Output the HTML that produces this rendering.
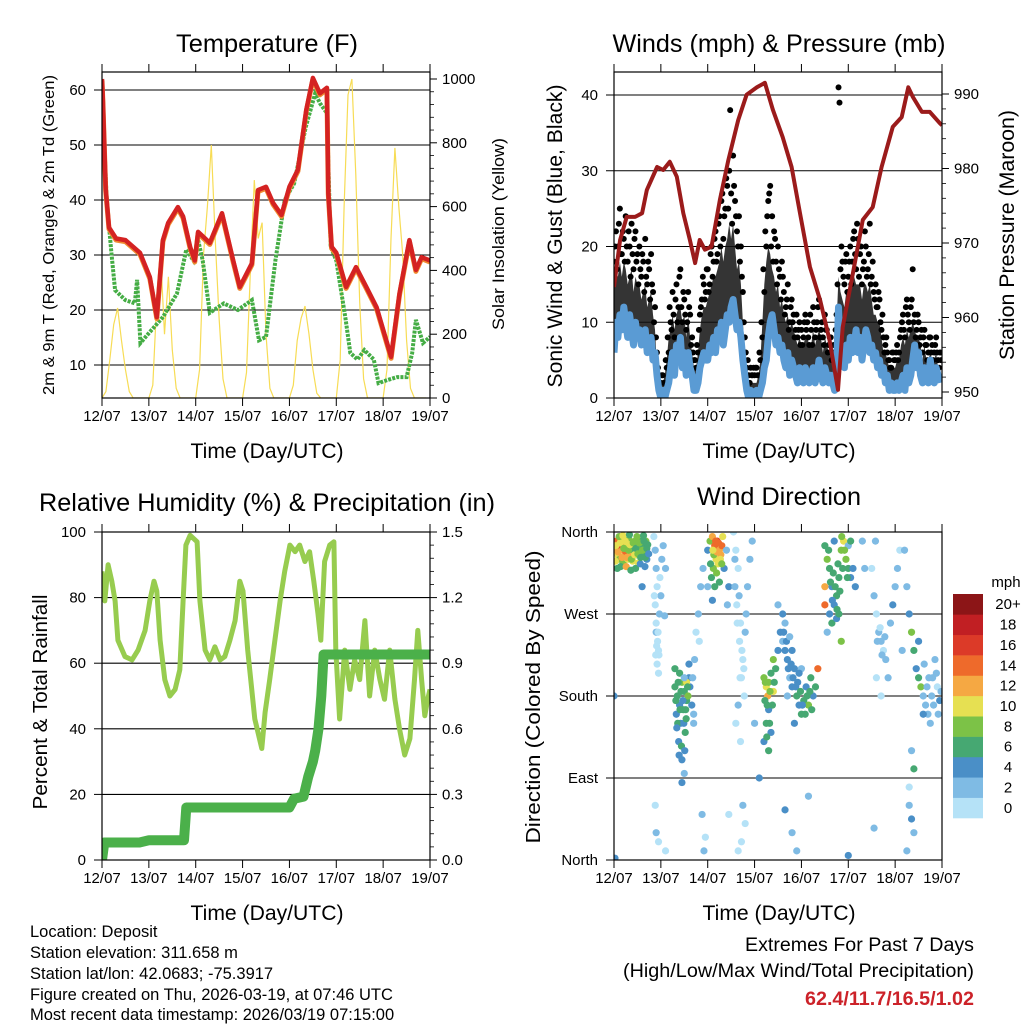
<!DOCTYPE html>
<html><head><meta charset="utf-8"><style>
html,body{margin:0;padding:0;background:#fff}
svg{display:block;font-family:"Liberation Sans",sans-serif}
</style></head><body>
<svg id="root" width="1024" height="1024" viewBox="0 0 1024 1024">
<defs>
<clipPath id="c1"><rect x="102" y="72" width="328" height="326"/></clipPath>
<clipPath id="c2"><rect x="614" y="72" width="328" height="326"/></clipPath>
<clipPath id="c3"><rect x="102" y="532" width="328" height="328"/></clipPath>
<clipPath id="c4"><rect x="614" y="532" width="328" height="328"/></clipPath>
</defs>
<g id="g1"></g>
<g id="g2"></g>
<g id="g3"></g>
<g id="g4"></g>
<g font-size="16.5" fill="#000">
<text x="30" y="937">Location: Deposit</text>
<text x="30" y="958">Station elevation: 311.658 m</text>
<text x="30" y="979">Station lat/lon: 42.0683; -75.3917</text>
<text x="30" y="1000">Figure created on Thu, 2026-03-19, at 07:46 UTC</text>
<text x="30" y="1020">Most recent data timestamp: 2026/03/19 07:15:00</text>
</g>
<g text-anchor="end">
<text x="974" y="951" font-size="19" textLength="229" lengthAdjust="spacingAndGlyphs">Extremes For Past 7 Days</text>
<text x="974" y="977" font-size="19" textLength="351" lengthAdjust="spacingAndGlyphs">(High/Low/Max Wind/Total Precipitation)</text>
<text x="974" y="1005" font-size="19" font-weight="bold" fill="#cc2229" textLength="169" lengthAdjust="spacingAndGlyphs">62.4/11.7/16.5/1.02</text>
</g>
</svg>
<script>
// ---------- DATA ----------
const dayLabels = ["12/07","13/07","14/07","15/07","16/07","17/07","18/07","19/07"];
const tempTicks = [10,20,30,40,50,60];
const solarTicks = [0,200,400,600,800,1000];
const windTicks = [0,10,20,30,40];
const presTicks = [950,960,970,980,990];
const rhTicks = [0,20,40,60,80,100];
const precipTicks = ["0.0","0.3","0.6","0.9","1.2","1.5"];
const dirLabels = ["North","East","South","West","North"];
const dirTicks = [0,90,180,270,360];
const speedBins = ["0","2","4","6","8","10","12","14","16","18","20+"];
const speedColors = ["#b5e2f7","#7fbbe4","#4a8fc7","#46a872","#7cc247","#e6e052","#f5a843","#ee6a2b","#dc3a28","#c11f23","#8c1517"];

const tempDays = [0,0.02,0.08,0.15,0.3,0.5,0.81,1.02,1.17,1.3,1.41,1.62,1.73,1.88,1.98,2.05,2.3,2.56,2.8,2.94,3.2,3.33,3.5,3.65,3.83,4.0,4.18,4.36,4.5,4.65,4.8,4.83,4.9,5.0,5.21,5.42,5.64,5.86,6.17,6.35,6.56,6.7,6.82,7];
const tempT = [62,58,42,35,33,32.7,30.4,26,18.7,32.7,35.8,38.7,37,31.5,29,34.2,32.2,37.6,29,24.2,28.5,41.8,42.4,39.5,37.3,42.4,45.5,56.4,62.2,59.4,60.4,41.3,31.5,30.4,24.2,27.8,24.2,20.5,11.5,23,32.7,27.3,29.6,29];
const dewDays = [0,0.02,0.1,0.2,0.28,0.5,0.7,0.75,0.82,1.0,1.3,1.6,1.8,1.95,2.05,2.15,2.3,2.6,2.9,3.2,3.35,3.5,3.7,3.9,4.1,4.35,4.55,4.65,4.8,4.88,5.0,5.2,5.3,5.45,5.6,5.8,5.9,6.1,6.3,6.5,6.62,6.7,6.85,7];
const dewT = [48,56,40,30.4,23.6,21.8,21.2,25.5,14,15.8,18.7,23,31,29,32.7,29,19.5,21.2,20,21.8,14.5,15.1,29,40,43,53.3,59.4,57.6,55.8,31.5,29,18.2,12.2,11,12.7,11,6.7,7.3,7.8,7.8,12.2,18.2,14,15.1];
const solar = [
0,20,120,230,282,180,90,20,0,0,0,0,
0,40,300,448,200,380,150,30,0,0,0,0,
0,90,450,600,793,500,250,60,0,0,0,0,
0,80,400,683,500,550,200,30,0,0,0,0,
0,40,180,250,288,200,90,15,0,0,0,0,
0,120,600,950,1000,700,300,60,0,0,0,0,
0,90,500,784,600,450,180,30,0,0,0,0];

const windMean = [
6,10,8,11,9,12,10,8,11,9,7,10,8,9,7,8,9,6,7,8,5,6,3,1,
0,1,0,1,2,4,6,3,7,5,8,4,6,3,6,4,3,1,1,2,4,5,6,5,
5,7,6,8,6,9,8,10,7,9,11,10,12,13,11,9,10,8,5,3,1,0,1,0,
0,1,0,1,2,4,5,8,10,11,9,7,8,6,7,5,4,6,3,5,4,3,2,4,
3,2,4,3,2,3,4,2,3,5,3,2,4,3,2,3,2,1,4,12,5,6,4,7,
5,8,6,7,9,6,8,5,7,9,8,6,7,5,6,4,5,3,4,2,3,1,2,1,
1,2,1,2,3,1,4,2,3,5,7,4,6,3,2,4,3,2,5,3,2,4,3,2];
const gustA = [
18,22,20,25,19,21,24,18,20,23,17,22,19,20,16,18,21,15,17,19,14,12,6,3,
2,3,2,4,6,10,14,8,15,12,17,10,13,9,14,11,8,5,4,6,11,13,15,14,
17,15,20,18,22,19,24,26,21,25,28,30,27,32,26,22,24,20,14,8,4,3,4,3,
3,4,3,5,8,14,20,26,28,24,22,18,20,16,18,14,12,15,10,13,11,9,8,10,
9,8,11,10,7,9,12,8,10,13,9,8,11,9,7,8,6,5,11,41,17,18,15,19,
16,20,18,22,17,21,19,15,18,20,17,23,16,14,15,12,13,9,8,7,6,5,4,6,
5,7,6,9,11,8,13,10,12,17,11,9,10,8,6,9,7,6,8,7,6,8,5,6];
const gustB = [
20,17,23,19,22,18,20,22,16,19,21,18,15,17,19,14,16,18,13,15,10,8,4,2,
3,2,5,8,12,9,11,13,10,16,12,14,11,10,12,7,6,5,7,9,12,16,13,17,
14,19,16,21,18,23,20,27,24,29,25,38,23,28,24,20,18,16,10,6,5,2,3,4,
4,3,6,10,17,22,24,27,20,18,21,15,17,13,16,11,13,9,12,10,8,11,9,7,
7,10,9,8,11,7,10,9,12,8,10,7,9,6,8,5,7,9,15,39,20,16,18,14,
18,15,21,19,23,16,20,17,22,16,19,15,18,13,12,14,10,11,6,8,5,4,6,5,
6,5,8,10,9,12,11,9,13,10,8,11,7,9,8,7,5,8,6,5,7,6,4,5];
const gustTypical = [
15,17,16,18,16,18,17,15,16,17,14,16,15,15,13,14,15,12,13,14,11,9,4,2,
2,2,3,5,8,9,11,9,11,12,12,10,11,8,11,8,6,4,4,6,9,11,12,12,
13,14,15,16,16,17,18,20,18,20,21,23,21,23,20,17,18,15,10,6,3,2,2,2,
2,2,3,5,10,15,18,20,19,17,16,14,15,12,13,11,10,11,9,10,9,8,7,8,
7,7,8,8,7,7,9,7,8,9,8,6,8,7,6,6,5,5,10,16,14,13,12,14,
14,15,15,16,15,15,15,13,15,15,14,15,13,11,11,10,10,8,6,6,5,4,4,4,
4,5,5,7,8,7,9,8,9,10,9,8,8,7,5,7,5,5,6,5,5,6,4,4];
const presDays = [0,0.13,0.27,0.45,0.6,0.7,0.92,1.05,1.19,1.34,1.48,1.62,1.73,1.83,1.94,2.08,2.26,2.44,2.65,2.83,3.05,3.22,3.39,3.6,3.79,3.97,4.18,4.4,4.6,4.78,4.88,5.1,5.31,5.52,5.71,5.95,6.14,6.28,6.38,6.57,6.74,6.95,7];
const presMb = [964.1,970.4,973.5,973.5,974,977.1,980.2,979.8,980.9,978.9,974,970.4,967.3,970.4,969.1,969.5,975.8,981.1,986.5,989.9,990.9,991.5,987.9,984.2,980.2,974,966.8,962.3,957,950.3,958.7,966,973.1,974.8,980.2,985.6,986.9,990.9,989.6,987.6,987.6,986.1,985.8];

const rhDays = [0,.06,.13,.21,.28,.34,.49,.64,.77,.92,1.02,1.11,1.17,1.24,1.34,1.45,1.56,1.66,1.73,1.79,1.88,2.03,2.09,2.2,2.3,2.41,2.52,2.62,2.73,2.84,2.94,3.01,3.11,3.26,3.41,3.48,3.58,3.69,3.8,3.9,4.01,4.12,4.22,4.33,4.43,4.52,4.61,4.67,4.75,4.86,4.95,4.99,5.07,5.18,5.29,5.39,5.5,5.61,5.71,5.82,5.93,6.03,6.14,6.25,6.35,6.46,6.57,6.67,6.74,6.82,6.89,6.95,7.0];
const rhVals = [88,79,90,85,79,67,62,61,64,70,79,85,82,67,55,50,52,58,79,96,99,97,79,64,61,65,61,62,67,73,85,82,64,43,34,45,55,67,79,88,96,94,96,91,94,85,75,67,91,96,97,64,43,64,52,61,55,73,50,64,55,49,64,49,40,32,37,55,70,55,44,49,52];
const precipDays = [0,0.05,0.8,1.0,1.75,1.8,4.0,4.1,4.3,4.4,4.5,4.55,4.62,4.68,4.73,7];
const precipIn = [0,0.08,0.08,0.09,0.09,0.24,0.24,0.28,0.29,0.38,0.45,0.5,0.6,0.75,0.94,0.94];

const dirObs = [
[0.02,340,12],[0.05,350,14],[0.08,335,10],[0.1,345,16],[0.12,330,9],[0.15,352,11],[0.18,340,13],[0.2,325,8],[0.22,348,12],[0.25,338,15],[0.28,344,10],[0.3,330,11],[0.32,352,9],[0.35,336,12],[0.38,346,8],[0.4,328,10],[0.42,340,7],[0.45,350,9],[0.48,335,8],[0.5,345,7],[0.52,326,11],[0.55,340,8],[0.58,350,7],[0.6,333,9],[0.62,345,6],[0.65,338,7],[0.68,350,8],[0.7,330,5],[0.03,328,10],[0.07,320,7],[0.14,322,6],[0.26,322,12],[0.36,318,7],[0.46,320,6],[0.56,325,5],[0.66,322,4],[0.72,346,6],[0.6,300,5],
[0.04,345,11],[0.09,338,13],[0.13,348,10],[0.17,332,12],[0.21,342,9],[0.24,350,10],[0.27,332,13],[0.31,340,8],[0.34,346,10],[0.37,330,9],[0.41,348,8],[0.44,335,10],[0.47,342,7],[0.51,336,9],[0.54,348,8],[0.57,332,7],[0.61,340,8],[0.64,350,7],[0.67,332,6],[0.7,342,7],[0.74,336,4],[0.11,355,9],[0.19,356,10],[0.33,357,7],[0.49,355,8],[0.63,356,6],
[0.85,355,1],[0.88,340,2],[0.9,320,2],[0.92,300,1],[0.88,280,0],[0.9,260,1],[0.93,240,0],[0.95,230,1],[0.9,250,2],[0.97,270,2],[1.0,290,3],[1.02,330,2],[1.05,345,3],[0.98,310,1],[1.08,268,3],[1.1,320,2],[0.92,215,0],[0.95,205,1],[0.88,60,1],[0.9,30,2],[0.95,20,1],[0.86,290,1],[0.91,235,0],[0.94,250,1],[0.96,225,0],[0.89,225,1],
[1.3,190,6],[1.35,180,7],[1.4,170,5],[1.45,195,8],[1.5,185,6],[1.55,175,7],[1.6,200,5],[1.33,160,4],[1.42,150,5],[1.48,165,6],[1.52,140,7],[1.58,180,8],[1.62,190,4],[1.66,170,5],[1.7,160,3],[1.38,130,4],[1.45,110,5],[1.5,95,3],[1.45,85,4],[1.3,210,6],[1.4,205,7],[1.55,195,10],[1.6,215,4],[1.68,200,3],[1.72,220,2],[1.7,150,2],
[1.32,175,7],[1.37,195,6],[1.43,185,7],[1.47,175,5],[1.53,165,6],[1.57,190,7],[1.36,150,6],[1.41,165,7],[1.49,150,4],[1.54,155,6],[1.34,145,5],[1.44,125,6],[1.39,115,4],[1.51,120,4],
[1.75,250,1],[1.8,270,2],[1.82,240,1],[1.85,300,3],[1.9,320,2],[1.88,50,3],[1.95,25,1],[1.92,10,2],
[2.0,340,5],[2.05,350,8],[2.1,355,12],[2.15,345,14],[2.2,350,16],[2.25,340,13],[2.3,345,15],[2.18,330,10],[2.22,325,11],[2.12,320,8],[2.08,310,6],[2.28,335,12],[2.32,355,10],[2.15,300,6],[2.25,305,7],[2.35,320,4],[2.4,340,3],[2.45,300,4],[2.42,280,3],[2.1,285,4],[2.0,300,3],
[2.13,335,9],[2.17,350,15],[2.23,348,14],[2.27,330,11],[2.2,338,12],[2.06,325,7],[2.11,340,10],[2.3,325,9],[2.19,315,8],
[2.55,360,1],[2.6,340,0],[2.65,320,1],[2.58,300,2],[2.62,280,1],[2.7,260,0],[2.68,240,1],[2.75,220,0],[2.72,200,1],[2.78,180,0],[2.8,250,2],[2.85,300,2],[2.9,330,3],[2.95,350,2],[2.7,130,0],[2.75,60,2],[2.8,40,1],[2.72,20,0],[2.65,10,1],[3.0,150,3],[2.65,170,3],[2.6,150,0],
[2.63,260,1],[2.67,290,2],[2.73,230,0],[2.77,210,1],[2.69,200,0],[2.82,270,2],[2.58,330,2],
[3.2,200,8],[3.25,190,10],[3.28,180,12],[3.3,195,9],[3.35,205,7],[3.4,185,11],[3.22,175,6],[3.3,165,5],[3.25,150,6],[3.35,140,5],[3.2,130,4],[3.3,120,6],[3.4,220,8],[3.45,210,6],[3.5,230,5],
[3.23,195,8],[3.27,170,7],[3.33,185,8],[3.38,170,6],[3.42,195,7],[3.26,135,7],[3.32,150,6],
[3.55,250,4],[3.6,240,3],[3.65,230,5],[3.7,220,4],[3.75,200,3],[3.8,190,5],[3.85,210,4],[3.9,180,6],[3.95,170,5],[4.0,160,7],[4.05,175,6],[4.1,190,5],[4.15,170,8],[4.2,200,7],[4.25,180,4],[3.6,270,4],[3.65,260,3],[3.8,230,4],[3.7,180,3],[4.0,210,2],[4.3,190,6],[3.85,150,5],[3.5,280,2],[3.65,55,4],[3.9,10,3],
[3.62,250,4],[3.68,240,5],[3.72,210,4],[3.78,215,5],[3.82,200,4],[3.88,190,5],[3.92,195,4],[3.98,185,6],[4.02,170,5],[4.08,160,6],[4.12,180,7],[4.18,185,6],[4.22,165,6],[3.75,245,3],[3.95,205,4],
[4.5,345,6],[4.55,330,8],[4.6,320,7],[4.65,300,5],[4.7,280,4],[4.75,290,6],[4.8,310,7],[4.85,340,9],[4.9,350,11],[4.95,330,8],[5.0,320,6],[5.05,310,5],[4.55,250,3],[4.6,270,4],[4.65,260,6],[4.75,265,5],[4.5,300,13],[4.5,280,14],[4.7,350,4],[5.0,345,3],[5.1,320,4],[5.15,300,5],[4.85,240,8],[4.35,210,14],[4.8,270,7],[5.05,350,7],
[4.62,305,6],[4.68,315,7],[4.72,300,6],[4.78,325,7],[4.82,295,6],[4.88,320,7],[4.92,340,8],[4.98,310,6],[4.66,285,5],[4.76,275,6],[4.86,355,9],[4.58,340,7],
[5.5,320,1],[5.55,290,2],[5.6,270,1],[5.65,250,3],[5.7,240,2],[5.75,230,1],[5.8,220,3],[5.85,200,2],[5.9,260,3],[5.95,280,4],[6.0,300,3],[6.05,320,2],[6.1,340,1],[5.7,180,0],[5.6,200,1],[6.15,230,3],[5.3,350,2],[5.35,320,2],
[5.62,240,2],[5.68,255,1],[5.72,225,2],[5.78,245,2],[5.58,350,2],
[6.2,340,2],[6.25,300,3],[6.3,270,4],[6.35,250,8],[6.4,230,6],[6.45,210,5],[6.5,200,7],[6.55,190,8],[6.6,180,3],[6.65,170,2],[6.7,160,2],[6.75,150,3],[6.8,200,3],[6.85,220,2],[6.9,190,1],[6.95,175,4],[6.3,60,3],[6.35,45,4],[6.4,30,2],[6.25,10,3],[6.35,120,2],[6.4,100,6],[6.3,80,1],[6.5,240,4],[6.6,160,4],
[6.72,200,2],[6.78,180,2],[6.82,170,3],[6.88,205,2],[6.92,160,2],[6.68,190,3],[6.98,185,2],[6.62,215,3],
[0.0,180,4],[0.02,2,4],[3.1,90,4],[3.8,30,3],[1.5,200,2],[1.1,10,0],[2.45,50,1],[4.15,70,2],[5.0,5,4],[5.55,35,2]];

// ---------- HELPERS ----------
const NS="http://www.w3.org/2000/svg";
function mk(tag,parent,attrs,txt){const e=document.createElementNS(NS,tag);for(const k in attrs)e.setAttribute(k,attrs[k]);if(txt!==undefined)e.textContent=txt;parent.appendChild(e);return e;}
function lin(d0,d1,r0,r1){return v=>r0+(v-d0)*(r1-r0)/(d1-d0);}
function pts(xs,ys,fx,fy){return xs.map((d,i)=>fx(d).toFixed(1)+","+fy(ys[i]).toFixed(1)).join(" ");}

function frame(g,P,title,titleY,titleLen){
  const b=mk("rect",g,{x:P.x0,y:P.y0,width:P.x1-P.x0,height:P.y1-P.y0,fill:"none",stroke:"#000","stroke-width":1.2});
  
  
  const t=mk("text",g,{x:(P.x0+P.x1)/2+1,y:titleY,"font-size":25,"text-anchor":"middle",textLength:titleLen,lengthAdjust:"spacingAndGlyphs"},title);
  
  
  const fx=lin(0,7,P.x0,P.x1);
  dayLabels.forEach((lab,i)=>{
    const x=fx(i);
    mk("line",g,{x1:x,x2:x,y1:P.y0-8,y2:P.y0,stroke:"#000","stroke-width":1});
    mk("line",g,{x1:x,x2:x,y1:P.y1,y2:P.y1+8,stroke:"#000","stroke-width":1});
    const tl=mk("text",g,{x:x,y:P.y1+23,"font-size":15,"text-anchor":"middle"},lab);
    
    
  });
  const xt=mk("text",g,{x:(P.x0+P.x1)/2+1,y:P.y1+60,"font-size":21,"text-anchor":"middle",textLength:153,lengthAdjust:"spacingAndGlyphs"},"Time (Day/UTC)");
  
  
  return fx;
}
function leftAxis(g,P,ticks,fy,labels,grid){
  ticks.forEach((v,i)=>{
    const y=fy(v);
    if(grid) mk("line",g,{x1:P.x0,x2:P.x1,y1:y,y2:y,stroke:"#000","stroke-width":1.1});
    mk("line",g,{x1:P.x0-8,x2:P.x0,y1:y,y2:y,stroke:"#000"});
    const t=mk("text",g,{x:P.x0-16,y:y+5,"font-size":15,"text-anchor":"end"},labels?labels[i]:v);
    
    
  });
}
function rightAxis(g,P,ticks,fy,labels){
  ticks.forEach((v,i)=>{
    const y=fy(v);
    mk("line",g,{x1:P.x1,x2:P.x1+7,y1:y,y2:y,stroke:"#000"});
    if(i<ticks.length-1){const y2=fy(ticks[i+1]);for(let k=1;k<5;k++){const yy=y+(y2-y)*k/5;mk("line",g,{x1:P.x1,x2:P.x1+4,y1:yy,y2:yy,stroke:"#000","stroke-width":0.8});}}
    const t=mk("text",g,{x:P.x1+12,y:y+5,"font-size":15},labels?labels[i]:v);
    
    
  });
}
function vtitle(g,x,y,size,len,txt,name){
  const t=mk("text",g,{x:x,y:y,"font-size":size,"text-anchor":"middle",textLength:len,lengthAdjust:"spacingAndGlyphs",transform:`rotate(-90 ${x} ${y})`},txt);
  
  
}

// ---------- PANEL 1 ----------
(function(){
  const g=document.getElementById("g1");
  const P={x0:102,x1:430,y0:72,y1:398};
  const fy=lin(10,60,365,90), fs=lin(0,1000,398,79);
  const fx=lin(0,7,P.x0,P.x1);
  leftAxis(g,P,tempTicks,fy,null,true);
  rightAxis(g,P,solarTicks,fs);
  const c=mk("g",g,{"clip-path":"url(#c1)"});
  const sx=solar.map((v,i)=>i/12);
  const sl=mk("polyline",c,{points:pts(sx,solar,fx,fs),fill:"none",stroke:"#f7dc55","stroke-width":1.2});
  
  
  const dl=mk("polyline",c,{points:pts(dewDays,dewT,fx,fy),fill:"none",stroke:"#45ad45","stroke-width":4,"stroke-dasharray":"3 1.2"});
  
  
  const ol=mk("polyline",c,{points:pts(tempDays,tempT,fx,fy),fill:"none",stroke:"#f08a30","stroke-width":5,transform:"translate(0,1.5)","stroke-linejoin":"round"});
  
  
  const rl=mk("polyline",c,{points:pts(tempDays,tempT,fx,fy),fill:"none",stroke:"#d42222","stroke-width":4.5,"stroke-linejoin":"round"});
  
  
  frame(g,P,"Temperature (F)",52,182);
  vtitle(g,54,235,15.5,320,"2m & 9m T (Red, Orange) & 2m Td (Green)","y-axis-title");
  vtitle(g,504,234,16.5,192,"Solar Insolation (Yellow)","right-axis-title");
})();

// ---------- PANEL 2 ----------
(function(){
  const g=document.getElementById("g2");
  const P={x0:614,x1:942,y0:72,y1:398};
  const fy=lin(0,40,398,95), fp=lin(950,990,392,94);
  const fx=lin(0,7,P.x0,P.x1);
  leftAxis(g,P,windTicks,fy,null,true);
  rightAxis(g,P,presTicks,fp);
  const c=mk("g",g,{"clip-path":"url(#c2)"});
  const hx=windMean.map((v,i)=>i/24);
  const top=hx.map((d,i)=>fx(d).toFixed(1)+","+fy(gustTypical[i]).toFixed(1));
  const bot=hx.map((d,i)=>fx(d).toFixed(1)+","+fy(windMean[i]).toFixed(1)).reverse();
  const band=mk("polygon",c,{points:top.concat(bot).join(" "),fill:"#111","fill-opacity":0.85});
  
  
  [gustA,gustB].forEach((arr,k)=>{
    arr.forEach((v,i)=>{
      const d=mk("circle",c,{cx:fx(i/24+k/48),cy:fy(v),r:3,fill:"#000"});
      
      
    });
  });
  const wl=mk("polyline",c,{points:pts(hx,windMean,fx,fy),fill:"none",stroke:"#5a9bd4","stroke-width":7,"stroke-linejoin":"round"});
  
  
  const pl=mk("polyline",c,{points:pts(presDays,presMb,fx,fp),fill:"none",stroke:"#9b1b1b","stroke-width":4,"stroke-linejoin":"round"});
  
  
  frame(g,P,"Winds (mph) & Pressure (mb)",52,333);
  vtitle(g,562,236,21,303,"Sonic Wind & Gust (Blue, Black)","y-axis-title");
  vtitle(g,1014,235,21,250,"Station Pressure (Maroon)","right-axis-title");
})();

// ---------- PANEL 3 ----------
(function(){
  const g=document.getElementById("g3");
  const P={x0:102,x1:430,y0:532,y1:860};
  const fy=lin(0,100,860,532), fp=lin(0,1.5,860,532);
  const fx=lin(0,7,P.x0,P.x1);
  leftAxis(g,P,rhTicks,fy,null,true);
  rightAxis(g,P,precipTicks.map(Number),fp,precipTicks);
  const c=mk("g",g,{"clip-path":"url(#c3)"});
  const rl=mk("polyline",c,{points:pts(rhDays,rhVals,fx,fy),fill:"none",stroke:"#97cc4f","stroke-width":5,"stroke-linejoin":"round"});
  
  
  const pl=mk("polyline",c,{points:pts(precipDays,precipIn,fx,fp),fill:"none",stroke:"#4bb04a","stroke-width":10,"stroke-linejoin":"round","stroke-linecap":"round"});
  
  
  frame(g,P,"Relative Humidity (%) & Precipitation (in)",511,456);
  vtitle(g,47,702,20.5,215,"Percent & Total Rainfall","y-axis-title");
})();

// ---------- PANEL 4 ----------
(function(){
  const g=document.getElementById("g4");
  const P={x0:614,x1:942,y0:532,y1:860};
  const fy=lin(0,360,860,532);
  const fx=lin(0,7,P.x0,P.x1);
  leftAxis(g,P,dirTicks,fy,dirLabels,true);
  const c=mk("g",g,{"clip-path":"url(#c4)"});
  dirObs.forEach(o=>{
    const bin=Math.min(10,Math.max(0,Math.floor(o[2]/2)));
    const d=mk("circle",c,{cx:fx(o[0]),cy:fy(o[1]),r:3.6,fill:speedColors[bin]});
    
    
  });
  frame(g,P,"Wind Direction",505,164);
  vtitle(g,540,697,20.5,293,"Direction (Colored By Speed)","y-axis-title");
  const cb=mk("g",g,{});
  
  
  const bh=224/11;
  speedBins.forEach((lab,i)=>{
    const y=818-(i+1)*bh;
    const r=mk("rect",cb,{x:953,y:y,width:30,height:bh+0.3,fill:speedColors[i]});
    
    
    const t=mk("text",cb,{x:1008,y:y+bh/2+5,"font-size":15,"text-anchor":"middle"},lab);
    
    
  });
  const u=mk("text",cb,{x:1006,y:587,"font-size":15,"text-anchor":"middle"},"mph");
  
  
})();
</script>
</body></html>
